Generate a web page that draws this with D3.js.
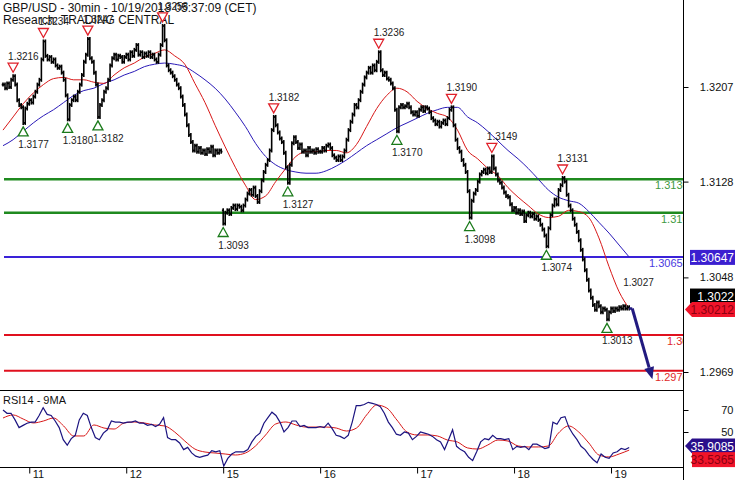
<!DOCTYPE html>
<html><head><meta charset="utf-8">
<script src="https://cdn.jsdelivr.net/npm/d3@7/dist/d3.min.js"></script>
<style>
body{margin:0;background:#fff}
svg{display:block}
text{font-family:"Liberation Sans",Arial,sans-serif}
</style>
</head><body>
<svg id="c" width="735" height="480"></svg>
<script>
// ---------------- DATA ----------------
const titleText = "GBP/USD - 30min - 10/19/2018 05:37:09 (CET)";
const sourceText = "Research: TRADING CENTRAL";

// 30-minute closes, grouped by trading day
const closeDay10 = [1.3209,1.3206,1.3210,1.3207,1.3213,1.3216,1.3209,1.3196,1.3192,1.3190,1.3177,1.3189,1.3193];
const closeDay11 = [1.3196,1.3194,1.3199,1.3203,1.3209,1.3213,1.3230,1.3245,1.3233,1.3230,1.3232,1.3228,1.3230,1.3225,1.3223,1.3224,1.3219,1.3213,1.3200,1.3180,1.3192,1.3196,1.3199,1.3196,1.3203,1.3209,1.3217,1.3228,1.3234,1.3247,1.3231,1.3228,1.3219,1.3209,1.3182,1.3192,1.3196,1.3203,1.3206,1.3213,1.3225,1.3231,1.3234,1.3230,1.3233,1.3232,1.3228,1.3232];
const closeDay12 = [1.3234,1.3230,1.3236,1.3233,1.3238,1.3242,1.3234,1.3236,1.3232,1.3235,1.3233,1.3236,1.3232,1.3234,1.3230,1.3228,1.3234,1.3242,1.3258,1.3246,1.3225,1.3221,1.3219,1.3216,1.3213,1.3209,1.3206,1.3199,1.3192,1.3184,1.3175,1.3167,1.3161,1.3154,1.3158,1.3153,1.3156,1.3152,1.3154,1.3151,1.3155,1.3153,1.3157,1.3150,1.3154,1.3152,1.3154,1.3153];
const mondayOpen = 1.3104;
const closeDay15 = [1.3093,1.3102,1.3104,1.3101,1.3106,1.3108,1.3105,1.3108,1.3107,1.3104,1.3108,1.3113,1.3118,1.3121,1.3117,1.3123,1.3116,1.3111,1.3120,1.3129,1.3136,1.3142,1.3146,1.3154,1.3171,1.3182,1.3175,1.3169,1.3164,1.3161,1.3152,1.3140,1.3127,1.3142,1.3160,1.3165,1.3161,1.3156,1.3159,1.3153,1.3154,1.3150,1.3156,1.3153,1.3154,1.3152,1.3155,1.3153];
const closeDay16 = [1.3153,1.3156,1.3154,1.3158,1.3159,1.3156,1.3150,1.3148,1.3146,1.3149,1.3146,1.3149,1.3154,1.3163,1.3171,1.3178,1.3184,1.3192,1.3190,1.3196,1.3203,1.3209,1.3215,1.3219,1.3223,1.3219,1.3225,1.3221,1.3228,1.3236,1.3221,1.3217,1.3219,1.3214,1.3213,1.3210,1.3206,1.3188,1.3170,1.3190,1.3192,1.3190,1.3191,1.3193,1.3190,1.3186,1.3184,1.3186];
const closeDay17 = [1.3183,1.3188,1.3190,1.3187,1.3190,1.3189,1.3186,1.3181,1.3179,1.3176,1.3178,1.3174,1.3177,1.3179,1.3176,1.3181,1.3188,1.3190,1.3175,1.3163,1.3156,1.3153,1.3146,1.3142,1.3136,1.3120,1.3098,1.3112,1.3118,1.3121,1.3128,1.3134,1.3136,1.3138,1.3135,1.3139,1.3136,1.3149,1.3139,1.3134,1.3129,1.3127,1.3123,1.3119,1.3116,1.3115,1.3109,1.3104];
const closeDay18 = [1.3106,1.3102,1.3104,1.3101,1.3103,1.3095,1.3100,1.3102,1.3099,1.3101,1.3097,1.3099,1.3096,1.3092,1.3088,1.3083,1.3074,1.3089,1.3100,1.3108,1.3113,1.3109,1.3121,1.3125,1.3131,1.3128,1.3117,1.3108,1.3104,1.3097,1.3092,1.3086,1.3079,1.3071,1.3063,1.3054,1.3046,1.3037,1.3031,1.3025,1.3021,1.3027,1.3024,1.3019,1.3022,1.3021,1.3013,1.3019];
const closeDay19 = [1.3022,1.3020,1.3022,1.3021,1.3023,1.3022,1.3024,1.3022,1.3023,1.3022];

// moving averages sampled every 5 bars
const maStep = 5;
const maFast = [1.3171,1.3182,1.3193,1.3202,1.3209,1.3214,1.3215,1.3213,1.3213,1.3211,1.3210,1.3217,1.3223,1.3227,1.3232,1.3235,1.3238,1.3233,1.3226,1.3210,1.3194,1.3175,1.3157,1.3140,1.3125,1.3113,1.3116,1.3128,1.3139,1.3149,1.3153,1.3153,1.3154,1.3154,1.3152,1.3159,1.3174,1.3189,1.3200,1.3206,1.3203,1.3195,1.3189,1.3185,1.3182,1.3171,1.3154,1.3147,1.3139,1.3133,1.3123,1.3115,1.3108,1.3101,1.3098,1.3099,1.3104,1.3103,1.3098,1.3081,1.3057,1.3036,1.3022];
const maSlow = [1.3158,1.3163,1.3170,1.3177,1.3183,1.3188,1.3194,1.3200,1.3204,1.3206,1.3210,1.3213,1.3217,1.3220,1.3224,1.3226,1.3227,1.3226,1.3224,1.3219,1.3213,1.3206,1.3197,1.3186,1.3174,1.3160,1.3149,1.3142,1.3138,1.3136,1.3135,1.3135,1.3137,1.3141,1.3146,1.3152,1.3158,1.3163,1.3168,1.3173,1.3177,1.3181,1.3185,1.3188,1.3190,1.3190,1.3182,1.3177,1.3170,1.3162,1.3154,1.3147,1.3139,1.3130,1.3121,1.3115,1.3112,1.3110,1.3103,1.3094,1.3085,1.3075,1.3065];

// RSI(14) and its 9-period MA
const rsi14 = [70,67,67,61,54,56,58,59,59,65,72,66,65,60,54,43,38,44,47,61,67,65,54,45,43,49,52,60,59,59,58,59,59,60,58,58,56,57,55,57,63,45,43,43,40,34,36,31,28,27,28,29,33,32,33,19,26,30,32,32,32,34,41,46,49,58,63,68,65,59,50,54,60,60,55,56,54,54,54,55,54,58,53,47,46,44,47,59,74,74,75,77,76,75,73,67,59,54,48,47,50,49,43,46,50,49,48,46,43,41,34,43,52,37,34,32,27,24,32,41,44,43,47,44,44,43,44,34,37,36,37,34,39,39,37,35,36,59,57,63,64,54,48,43,37,34,29,25,22,30,27,26,31,32,35,34,35.9085];
const rsiMa9 = [62.7,65.5,61.8,58.2,60,62.7,55.5,46.4,46.4,56.4,53.6,52.7,58.2,59.1,58.2,56.4,55.5,50,41.8,34.5,31.8,30.9,30,29.1,30.9,37.3,47.3,57.3,59.1,56.4,54.5,54.5,54.5,53.6,50.9,53.6,65.5,74.5,71.8,60.9,50,47.3,47.3,46.4,42.7,40.9,35.5,34.5,38.2,42.7,41.8,37.3,36.4,36.4,37.3,49.1,55.5,50,40,29.1,27.3,30,33.5365];

// axes
const dayLabels = ["11","12","15","16","17","18","19"];
const dayStartBars = [13,61,109,157,205,253,301];
const priceTicks = [1.3207,1.3128,1.3048,1.2969];
const rsiTicks = [70,50];

// swing markers
const highBars = [5,20,42,79,134,186,222,242,277];
const highLabels = ["1.3216","1.3234","1.3247","1.3258","1.3182","1.3236","1.3190","1.3149","1.3131"];
const lowBars = [10,32,47,109,141,195,231,269,299];
const lowLabels = ["1.3177","1.3180","1.3182","1.3093","1.3127","1.3170","1.3098","1.3074","1.3013"];

// key levels
const levelValues = [1.3130,1.3102,1.3065,1.3000,1.2970];
const levelLabels = ["1.3130","1.3102","1.3065","1.3000","1.2970"];
const levelKinds = ["res","res","pivot","sup","sup"];

// projection
const projBars = [311.5,321.5];
const projPrices = [1.3022,1.2963];
const targetText = "1.3027";
const targetPrice = 1.3027;

// last values
const pivotValue = 1.30647, pivotText = "1.30647";
const lastValue = 1.3022, lastText = "1.3022";
const bidValue = 1.30212, bidText = "1.30212";
const rsiLast = 35.9085, rsiLastText = "35.9085";
const rsiMaLast = 33.5365, rsiMaLastText = "33.5365";

// ---------------- DRAW ----------------
const closes = [].concat(closeDay10,closeDay11,closeDay12,closeDay15,closeDay16,closeDay17,closeDay18,closeDay19);
const mondayBar = closeDay10.length + closeDay11.length + closeDay12.length;
const nBars = closes.length;
const svg = d3.select("#c");
const axisX = 683, mainBottom = 390, rsiBottom = 467;
const x = d3.scaleLinear().domain([0, nBars-1]).range([3, 629.2]);
const y = d3.scaleLinear().domain([1.2969, 1.3207]).range([372, 87]);
const yR = d3.scaleLinear().domain([50, 70]).range([432, 410]);

const defs = svg.append("defs");
defs.append("clipPath").attr("id","mainClip").append("rect").attr("x",0).attr("y",0).attr("width",axisX).attr("height",mainBottom);
defs.append("clipPath").attr("id","rsiClip").append("rect").attr("x",0).attr("y",mainBottom+1).attr("width",axisX).attr("height",rsiBottom-mainBottom-1);

svg.append("rect").attr("width",735).attr("height",480).attr("fill","#fff");

const main = svg.append("g").attr("clip-path","url(#mainClip)");

// title
main.append("text").attr("x",3).attr("y",12).attr("font-size",12).attr("fill","#111").text(titleText);
main.append("text").attr("x",3).attr("y",24).attr("font-size",12).attr("fill","#111").text(sourceText);

// levels
const levelColor = {res:"#1f8a1f", pivot:"#3a22d8", sup:"#e0101e"};
const levelTextColor = {res:"#3f9a3f", pivot:"#4a3ae0", sup:"#e02a2a"};
const levelLabelX = [655,661,649,667,655];
levelValues.forEach((v,k)=>{
  main.append("line").attr("x1",x(0)+1).attr("x2",axisX).attr("y1",y(v)).attr("y2",y(v))
    .attr("stroke",levelColor[levelKinds[k]]).attr("stroke-width",levelKinds[k]==="res"?2.4:2);
  main.append("text").attr("x",levelLabelX[k]).attr("y",y(v)+10).attr("font-size",11)
    .attr("fill",levelTextColor[levelKinds[k]]).text(levelLabels[k]);
});

// moving averages
const maLine = d3.line().x((d,k)=>x(k*maStep)).y(d=>y(d)).curve(d3.curveMonotoneX);
main.append("path").attr("d",maLine(maSlow)).attr("fill","none").attr("stroke","#2a1ab8").attr("stroke-width",1);
main.append("path").attr("d",maLine(maFast)).attr("fill","none").attr("stroke","#d81818").attr("stroke-width",1);

// OHLC bars (open = previous close, weekend gap uses Monday open)
const bars = main.append("g").attr("stroke","#000").attr("stroke-width",1.6);
closes.forEach((c,i)=>{
  const o = i === 0 ? c : (i === mondayBar ? mondayOpen : closes[i-1]);
  const xi = x(i);
  const top = Math.min(y(o),y(c)) - 2, bot = Math.max(y(o),y(c)) + 2;
  bars.append("line").attr("x1",xi).attr("x2",xi).attr("y1",top).attr("y2",bot);
  bars.append("line").attr("x1",xi-1.3).attr("x2",xi).attr("y1",y(o)).attr("y2",y(o));
  bars.append("line").attr("x1",xi).attr("x2",xi+1.3).attr("y1",y(c)).attr("y2",y(c));
});

// swing markers
highBars.forEach((b,k)=>{
  const cx = x(b), yb = y(closes[b]) - 4, yt = yb - 9;
  main.append("path").attr("d",`M${cx-5},${yt}L${cx+5},${yt}L${cx},${yb}Z`)
    .attr("fill","#fff").attr("stroke","#e0202a").attr("stroke-width",1.3);
  main.append("text").attr("x",cx-5).attr("y",yt-3).attr("font-size",10).attr("fill","#222").text(highLabels[k]);
});
lowBars.forEach((b,k)=>{
  const cx = x(b), yt = y(closes[b]) + 4, yb = yt + 9;
  main.append("path").attr("d",`M${cx},${yt}L${cx+5},${yb}L${cx-5},${yb}Z`)
    .attr("fill","#fff").attr("stroke","#1a7a1a").attr("stroke-width",1.3);
  main.append("text").attr("x",cx-5).attr("y",yb+12).attr("font-size",10).attr("fill","#222").text(lowLabels[k]);
});

// projection arrow
const p0 = [x(projBars[0]), y(projPrices[0])], p1 = [x(projBars[1]), y(projPrices[1])];
main.append("line").attr("x1",x(nBars-1)).attr("x2",p0[0]).attr("y1",y(closes[nBars-1])).attr("y2",p0[1]).attr("stroke","#221a80").attr("stroke-width",2.5);
const ang = Math.atan2(p1[1]-p0[1], p1[0]-p0[0]);
const back = [p1[0]-12*Math.cos(ang), p1[1]-12*Math.sin(ang)];
main.append("line").attr("x1",p0[0]).attr("y1",p0[1]).attr("x2",back[0]).attr("y2",back[1]).attr("stroke","#221a80").attr("stroke-width",3);
const px = -Math.sin(ang)*5, py = Math.cos(ang)*5;
main.append("path").attr("d",`M${p1[0]},${p1[1]}L${back[0]+px},${back[1]+py}L${back[0]-px},${back[1]-py}Z`).attr("fill","#221a80");
main.append("text").attr("x",x(nBars-1)-6).attr("y",y(targetPrice)-17).attr("font-size",10).attr("fill","#222").text(targetText);

// ---- RSI panel ----
const rsiG = svg.append("g").attr("clip-path","url(#rsiClip)");
rsiG.append("text").attr("x",3).attr("y",404).attr("font-size",11).attr("fill","#111").text("RSI14 - 9MA");
const rsiX = d3.scaleLinear().domain([0, rsi14.length-1]).range([x(0), x(nBars-1)]);
const rsiMaX = d3.scaleLinear().domain([0, rsiMa9.length-1]).range([x(0), x(nBars-1)]);
rsiG.append("path").attr("d",d3.line().x((d,k)=>rsiMaX(k)).y(d=>yR(d)).curve(d3.curveMonotoneX)(rsiMa9))
  .attr("fill","none").attr("stroke","#d81818").attr("stroke-width",1);
rsiG.append("path").attr("d",d3.line().x((d,k)=>rsiX(k)).y(d=>yR(d))(rsi14))
  .attr("fill","none").attr("stroke","#1c1480").attr("stroke-width",1.2);

// frame
svg.append("line").attr("x1",axisX+0.5).attr("x2",axisX+0.5).attr("y1",0).attr("y2",480).attr("stroke","#000");
svg.append("line").attr("x1",0).attr("x2",axisX).attr("y1",mainBottom+0.5).attr("y2",mainBottom+0.5).attr("stroke","#000");
svg.append("line").attr("x1",0).attr("x2",axisX).attr("y1",rsiBottom+0.5).attr("y2",rsiBottom+0.5).attr("stroke","#000");

// price axis
const pAxis = svg.append("g").attr("transform",`translate(${axisX+0.5},0)`)
  .call(d3.axisRight(y).tickValues(priceTicks).tickSize(5).tickFormat(d3.format(".4f")));
pAxis.select(".domain").remove();
pAxis.selectAll("text").attr("x",50).attr("text-anchor","end").attr("font-size",11).attr("fill","#111").attr("font-family","Liberation Sans, Arial, sans-serif");

// rsi axis
const rAxis = svg.append("g").attr("transform",`translate(${axisX+0.5},0)`)
  .call(d3.axisRight(yR).tickValues(rsiTicks).tickSize(5).tickFormat(d3.format("d")));
rAxis.select(".domain").remove();
rAxis.selectAll("text").attr("x",50).attr("text-anchor","end").attr("font-size",11).attr("fill","#111").attr("font-family","Liberation Sans, Arial, sans-serif");

// time axis
const tAxis = svg.append("g").attr("transform",`translate(0,${rsiBottom+0.5})`)
  .call(d3.axisBottom(x).tickValues(dayStartBars).tickSize(6).tickFormat((d,k)=>dayLabels[k]));
tAxis.select(".domain").remove();
tAxis.selectAll("text").attr("text-anchor","start").attr("dx",3).attr("y",3).attr("dy","0.71em").attr("font-size",11).attr("fill","#111").attr("font-family","Liberation Sans, Arial, sans-serif");

// value tags
function tag(cy, txt, bg, fg, arrow, x0){
  const h = 15, top = cy - h/2;
  if(arrow){
    svg.append("path").attr("d",`M${axisX+2},${cy}L${x0},${top}L735,${top}L735,${top+h}L${x0},${top+h}Z`).attr("fill",bg);
  } else {
    svg.append("rect").attr("x",x0).attr("y",top).attr("width",735-x0).attr("height",h).attr("fill",bg);
  }
  svg.append("text").attr("x",734).attr("y",cy+4.5).attr("text-anchor","end").attr("font-size",12).attr("fill",fg).text(txt);
}
tag(y(pivotValue), pivotText, "#3b1fd0", "#fff", false, 690);
tag(y(lastValue)-12.5, lastText, "#000", "#fff", false, 690);
tag(y(bidValue), bidText, "#f0142a", "#8a0010", true, 692);
tag(yR(rsiLast)-1.5, rsiLastText, "#2a0f8a", "#fff", true, 692);
tag(yR(rsiMaLast)+9.5, rsiMaLastText, "#f0142a", "#8a0010", false, 692);
</script>
</body></html>
